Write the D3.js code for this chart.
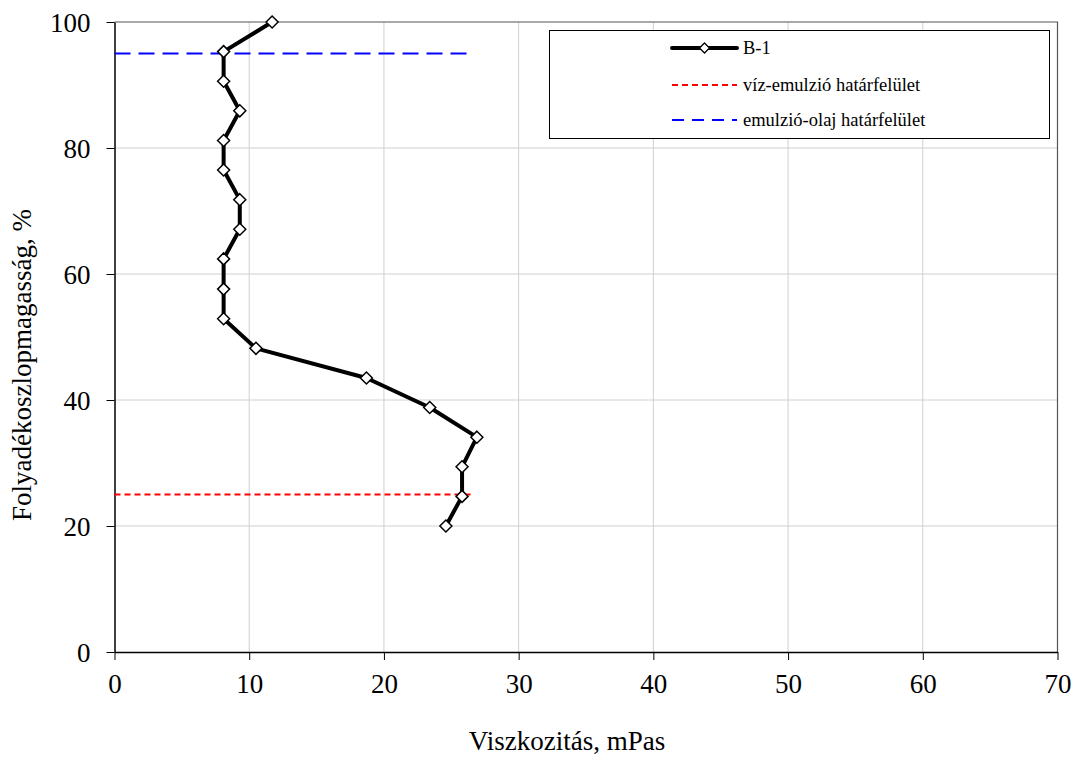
<!DOCTYPE html>
<html>
<head>
<script src="https://cdn.jsdelivr.net/npm/d3@7"></script>
</head>
<body style="margin:0">
<svg id="chart" width="1081" height="760"></svg>
<script>
// Viscosity profile along the liquid column (sample B-1)
const heights = [100, 95.3, 90.6, 85.9, 81.2, 76.5, 71.8, 67.1, 62.4, 57.6, 52.9, 48.2, 43.5, 38.8, 34.1, 29.4, 24.7, 20.0];
const viscosity = [11.7, 8.1, 8.1, 9.3, 8.1, 8.1, 9.3, 9.3, 8.1, 8.1, 8.1, 10.5, 18.7, 23.4, 26.9, 25.8, 25.8, 24.6];
const seriesName = "B-1";

// Interface levels (height %, extent in viscosity units)
const interfaceNames = ["víz-emulzió határfelület", "emulzió-olaj határfelület"];
const interfaceLevels = [25, 95];
const interfaceExtent = [0, 26.7];

const xTicks = [0, 10, 20, 30, 40, 50, 60, 70];
const yTicks = [0, 20, 40, 60, 80, 100];
const xTitle = "Viszkozitás, mPas";
const yTitle = "Folyadékoszlopmagasság, %";

const FONT = "Liberation Serif";
const svg = d3.select("#chart");
const plotL = 114.5, plotR = 1057.5, plotT = 22, plotB = 652;

const x = d3.scaleLinear().domain([0, 70]).range([plotL, plotR]);
const y = d3.scaleLinear().domain([0, 100]).range([plotB, plotT]);

// grid
const grid = svg.append("g");
grid.selectAll("line.gx").data(xTicks.slice(1, -1)).join("line")
  .attr("x1", d => x(d)).attr("x2", d => x(d))
  .attr("y1", plotT).attr("y2", plotB)
  .attr("stroke", "#d0d0d0").attr("stroke-width", 1);
grid.selectAll("line.gy").data(yTicks.slice(1, -1)).join("line")
  .attr("x1", plotL).attr("x2", plotR)
  .attr("y1", d => y(d)).attr("y2", d => y(d))
  .attr("stroke", "#d0d0d0").attr("stroke-width", 1);

// plot frame (top/right)
svg.append("path")
  .attr("d", `M${plotL},${plotT}H${plotR}V${plotB}`)
  .attr("fill", "none").attr("stroke", "#555").attr("stroke-width", 1.2);

// axes
const xAxis = svg.append("g").attr("transform", `translate(0,${plotB})`)
  .call(d3.axisBottom(x).tickValues(xTicks).tickSizeInner(8).tickSizeOuter(0).tickPadding(14));
const yAxis = svg.append("g").attr("transform", `translate(${plotL},0)`)
  .call(d3.axisLeft(y).tickValues(yTicks).tickSizeInner(8).tickSizeOuter(0).tickPadding(16));
[xAxis, yAxis].forEach(g => {
  g.attr("font-family", FONT).attr("font-size", 27);
  g.select(".domain").attr("stroke", "#000").attr("stroke-width", 1.5);
  g.selectAll(".tick line").attr("stroke", "#000").attr("stroke-width", 1);
  g.selectAll(".tick text").attr("fill", "#000")
    .style("font-family", FONT).style("font-size", "27px");
});
yAxis.selectAll(".tick text").attr("dy", "0.35em");

// axis titles
svg.append("text")
  .attr("x", 567).attr("y", 750)
  .attr("text-anchor", "middle")
  .style("font-family", FONT).style("font-size", "27px")
  .text(xTitle);
svg.append("text")
  .attr("transform", "translate(31,365) rotate(-90)")
  .attr("text-anchor", "middle")
  .style("font-family", FONT).style("font-size", "27px")
  .text(yTitle);

// interface lines
const ifaceStyles = [
  { color: "#ff0000", dash: "6,4", width: 2 },
  { color: "#0000ff", dash: "16,8", width: 2.2 }
];
svg.append("g").selectAll("line").data(interfaceLevels).join("line")
  .attr("x1", x(interfaceExtent[0])).attr("x2", x(interfaceExtent[1]))
  .attr("y1", d => y(d)).attr("y2", d => y(d))
  .attr("stroke", (d, i) => ifaceStyles[i].color)
  .attr("stroke-width", (d, i) => ifaceStyles[i].width)
  .attr("stroke-dasharray", (d, i) => ifaceStyles[i].dash);

// data line + diamond markers
const pts = heights.map((h, i) => [viscosity[i], h]);
svg.append("path")
  .datum(pts)
  .attr("d", d3.line().x(d => x(d[0])).y(d => y(d[1])))
  .attr("fill", "none").attr("stroke", "#000").attr("stroke-width", 4)
  .attr("stroke-linejoin", "round");

const diamond = (r) => `M0,${-r}L${r},0L0,${r}L${-r},0Z`;
svg.append("g").selectAll("path").data(pts).join("path")
  .attr("transform", d => `translate(${x(d[0])},${y(d[1])})`)
  .attr("d", diamond(6))
  .attr("fill", "#fff").attr("stroke", "#000").attr("stroke-width", 1.5);

// legend
const lg = svg.append("g");
lg.append("rect")
  .attr("x", 549.5).attr("y", 30.5).attr("width", 500).attr("height", 108)
  .attr("fill", "#fff").attr("stroke", "#000").attr("stroke-width", 1);
const rows = [48, 85, 120];
const lx1 = 672, lx2 = 737;
lg.append("line").attr("x1", lx1).attr("x2", lx2).attr("y1", rows[0]).attr("y2", rows[0])
  .attr("stroke", "#000").attr("stroke-width", 4).attr("stroke-linecap", "round");
lg.append("path").attr("transform", `translate(${(lx1 + lx2) / 2},${rows[0]})`)
  .attr("d", diamond(5)).attr("fill", "#fff").attr("stroke", "#000").attr("stroke-width", 1.3);
interfaceNames.forEach((n, i) => {
  lg.append("line").attr("x1", lx1).attr("x2", lx2).attr("y1", rows[i + 1]).attr("y2", rows[i + 1])
    .attr("stroke", ifaceStyles[i].color).attr("stroke-width", ifaceStyles[i].width)
    .attr("stroke-dasharray", i === 0 ? "6,4" : "12,8");
});
[seriesName, ...interfaceNames].forEach((t, i) => {
  lg.append("text").attr("x", 743).attr("y", rows[i]).attr("dy", "0.35em")
    .style("font-family", FONT).style("font-size", "18.5px").text(t);
});
</script>
</body>
</html>
